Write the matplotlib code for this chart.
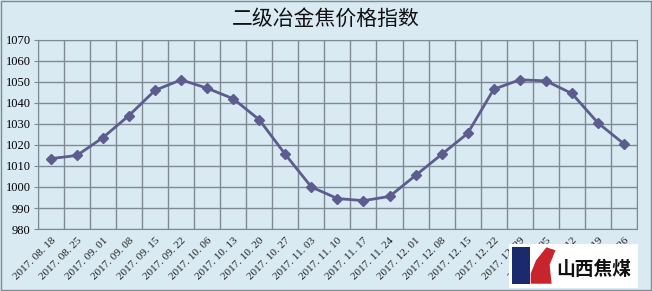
import numpy as np
import matplotlib.pyplot as plt
from matplotlib.patches import Rectangle, Polygon

plt.rcParams['font.family'] = ['Noto Sans CJK SC', 'DejaVu Sans']

fechas = ["2017.08.18", "2017.08.25", "2017.09.01", "2017.09.08", "2017.09.15",
          "2017.09.22", "2017.10.06", "2017.10.13", "2017.10.20", "2017.10.27",
          "2017.11.03", "2017.11.10", "2017.11.17", "2017.11.24", "2017.12.01",
          "2017.12.08", "2017.12.15", "2017.12.22", "2017.12.29", "2018.01.05",
          "2018.01.12", "2018.01.19", "2018.01.26"]
indice = [1013.5, 1015, 1023.5, 1034, 1046, 1051, 1047, 1042, 1032, 1015.5,
          1000, 994.5, 993.5, 995.5, 1005.5, 1015.5, 1025.5, 1046.5, 1051,
          1050.5, 1044.5, 1030.5, 1020.5]
titulo = "二级冶金焦价格指数"

bg = "#d9eaf3"
fig = plt.figure(figsize=(6.52, 2.91), dpi=100, facecolor=bg)
ax = fig.add_axes([0.058, 0.213, 0.919, 0.65])
ax.set_facecolor(bg)

n = len(fechas)
x = np.arange(n)
ax.plot(x, indice, color="#5c5c8e", lw=2, marker="D", ms=5.5, mec="#5c5c8e", mfc="#5c5c8e", zorder=3)

ax.set_xlim(-0.5, n - 0.5)
ax.set_ylim(980, 1070)
ax.set_yticks(np.arange(980, 1071, 10))
ax.set_yticklabels([str(v) for v in range(980, 1071, 10)], fontsize=9, family="Liberation Serif")
ax.set_xticks(x)
ax.set_xticklabels([f.replace(".", ". ") for f in fechas], rotation=45, ha="right",
                   rotation_mode="anchor", fontsize=8, family="Liberation Serif", color="#222222")
ax.set_xticks(np.arange(-0.5, n, 1), minor=True)
ax.tick_params(axis="x", which="major", length=0, pad=5)
ax.tick_params(axis="x", which="minor", length=0)
ax.tick_params(axis="y", length=3, color="#7f8a94", pad=2)
ax.grid(True, which="minor", axis="x", color="#7f8a94", lw=1)
ax.grid(True, which="major", axis="y", color="#7f8a94", lw=1)
for s in ax.spines.values():
    s.set_color("#7f8a94")

fig.text(0.5, 0.935, titulo, ha="center", va="center", fontsize=15, weight="medium", color="#111111")

# logo
fig.patches.append(Rectangle((0.781, 0.01), 0.197, 0.15, transform=fig.transFigure,
                             facecolor="white", edgecolor="none", zorder=5))
fig.patches.append(Rectangle((0.785, 0.025), 0.028, 0.125, transform=fig.transFigure,
                             facecolor="#1a2a6c", edgecolor="none", zorder=6))
fig.patches.append(Polygon([(0.814, 0.025), (0.846, 0.025), (0.843, 0.09), (0.852, 0.14),
                            (0.838, 0.15), (0.822, 0.105), (0.814, 0.06)],
                           closed=True, transform=fig.transFigure,
                           facecolor="#c8242b", edgecolor="none", zorder=6))
fig.text(0.91, 0.075, "山西焦煤", ha="center", va="center", fontsize=13.5, weight="bold",
         color="#111111", zorder=7)

fig.patches.append(Rectangle((0.001, 0.002), 0.997, 0.995, transform=fig.transFigure,
                             facecolor="none", edgecolor="#7f8a94", lw=1, zorder=8))

fig.savefig("out.png", dpi=100, facecolor=bg)
